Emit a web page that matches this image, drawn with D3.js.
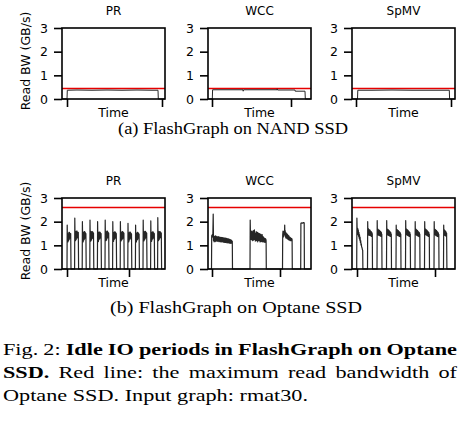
<!DOCTYPE html>
<html><head><meta charset="utf-8">
<script src="https://cdn.jsdelivr.net/npm/d3@7"></script>
<style>body{margin:0;background:#fff}svg{display:block}</style>
</head><body>
<svg id="c" width="467" height="425"></svg>
<script>
// ---------------- data ----------------
const algorithms = ["PR", "WCC", "SpMV"];
const yTicks = [0, 1, 2, 3];
const yLabel = "Read BW (GB/s)";
const xLabel = "Time";
const timeDomain = [0, 103];
const nandMaxBW = 0.44;
const optaneMaxBW = 2.6;
const nandTimeTicks = [[5, 100], [4, 83], [4, 99]];
const optaneTimeTicks = [[5, 67], [4, 72], [5, 83]];
const subCaptions = ["(a) FlashGraph on NAND SSD", "(b) FlashGraph on Optane SSD"];
const captionLines = [
  [["Fig.", 0], ["2:", 0], ["Idle", 1], ["IO", 1], ["periods", 1], ["in", 1], ["FlashGraph", 1], ["on", 1], ["Optane", 1]],
  [["SSD.", 1], ["Red", 0], ["line:", 0], ["the", 0], ["maximum", 0], ["read", 0], ["bandwidth", 0], ["of", 0]],
  [["Optane", 0], ["SSD.", 0], ["Input", 0], ["graph:", 0], ["rmat30.", 0]]
];

const nandPR = [[0,0],[5,0],[5.3,0.37],[15,0.38],[30,0.37],[45,0.38],[60,0.37],[75,0.38],[90,0.37],[96,0.37],[96.3,0],[103,0]];
const nandWCC = [[0,0],[4.3,0],[4.6,0.39],[20,0.39],[35,0.39],[35.2,0.33],[35.5,0.39],[52,0.39],[69,0.39],[69.2,0.43],[69.5,0.38],[80,0.38],[87,0.38],[87.2,0.33],[97,0.33],[97.3,0],[103,0]];
const nandSpMV = [[0,0],[5.5,0],[5.8,0.37],[20,0.37],[40,0.38],[60,0.37],[80,0.37],[97.3,0.37],[97.6,0],[103,0]];

const optanePR = [[0,0],
[5,0],[5.2,1.86],[5.4,1.3],[5.7,1.5],[6,1.15],[6.3,1.47],[6.6,1.2],[6.9,1.55],[7.2,1.25],[7.5,1.55],[7.8,1.3],[8.1,1.5],[8.4,1.35],[8.7,1.5],[9,0],
[12.6,0],[12.8,2.15],[13,1.42],[13.3,1.6],[13.6,1.2],[13.9,1.56],[14.2,1.25],[14.5,1.6],[14.8,1.3],[15.1,1.6],[15.4,1.32],[15.7,1.55],[16,1.38],[16.3,1.55],[16.6,0],
[20.2,0],[20.4,2.0],[20.6,1.35],[20.9,1.55],[21.2,1.15],[21.5,1.5],[21.8,1.22],[22.1,1.58],[22.4,1.26],[22.7,1.58],[23,1.3],[23.3,1.54],[23.6,1.36],[23.9,1.5],[24.2,0],
[27.8,0],[28,2.07],[28.2,1.38],[28.5,1.6],[28.8,1.18],[29.1,1.52],[29.4,1.22],[29.7,1.58],[30,1.28],[30.3,1.58],[30.6,1.3],[30.9,1.56],[31.2,1.38],[31.5,1.52],[31.8,0],
[35.4,0],[35.6,2.0],[35.8,1.32],[36.1,1.57],[36.4,1.16],[36.7,1.5],[37,1.24],[37.3,1.56],[37.6,1.27],[37.9,1.56],[38.2,1.31],[38.5,1.53],[38.8,1.36],[39.1,1.5],[39.4,0],
[43,0],[43.2,2.07],[43.4,1.4],[43.7,1.58],[44,1.2],[44.3,1.54],[44.6,1.23],[44.9,1.6],[45.2,1.3],[45.5,1.6],[45.8,1.32],[46.1,1.55],[46.4,1.38],[46.7,1.52],[47,0],
[50.6,0],[50.8,2.0],[51,1.36],[51.3,1.55],[51.6,1.17],[51.9,1.51],[52.2,1.25],[52.5,1.57],[52.8,1.28],[53.1,1.57],[53.4,1.31],[53.7,1.54],[54,1.37],[54.3,1.5],[54.6,0],
[58.2,0],[58.4,2.0],[58.6,1.34],[58.9,1.56],[59.2,1.19],[59.5,1.52],[59.8,1.24],[60.1,1.58],[60.4,1.27],[60.7,1.58],[61,1.3],[61.3,1.55],[61.6,1.38],[61.9,1.52],[62.2,0],
[65.8,0],[66,1.93],[66.2,1.33],[66.5,1.54],[66.8,1.15],[67.1,1.49],[67.4,1.23],[67.7,1.56],[68,1.26],[68.3,1.56],[68.6,1.3],[68.9,1.52],[69.2,1.35],[69.5,1.49],[69.8,0],
[73.4,0],[73.6,1.86],[73.8,1.3],[74.1,1.52],[74.4,1.14],[74.7,1.48],[75,1.22],[75.3,1.55],[75.6,1.25],[75.9,1.55],[76.2,1.3],[76.5,1.51],[76.8,1.34],[77.1,1.48],[77.4,0],
[81,0],[81.2,2.07],[81.4,1.38],[81.7,1.58],[82,1.19],[82.3,1.53],[82.6,1.24],[82.9,1.59],[83.2,1.28],[83.5,1.59],[83.8,1.32],[84.1,1.55],[84.4,1.38],[84.7,1.52],[85,0],
[88.6,0],[88.8,2.03],[89,1.36],[89.3,1.56],[89.6,1.17],[89.9,1.51],[90.2,1.24],[90.5,1.57],[90.8,1.28],[91.1,1.57],[91.4,1.31],[91.7,1.53],[92,1.37],[92.3,1.5],[92.6,0],
[95.6,0],[95.8,2.17],[96,1.4],[96.3,1.6],[96.6,1.2],[96.9,1.55],[97.2,1.25],[97.5,1.58],[97.8,1.3],[98.1,1.58],[98.4,1.33],[98.7,1.55],[99,1.38],[99.3,1.52],[99.6,0],[103,0]];

const optaneWCC = [[0,0],
[3.5,0],[3.7,1.4],[4.3,1.45],[4.8,1.35],[5.2,2.32],[5.5,1.2],[5.8,1.4],[6.1,1.15],[6.4,1.38],[6.7,1.2],[7,1.36],[7.3,1.16],[7.6,1.4],[7.9,1.2],[8.2,1.38],[8.5,1.18],[8.8,1.36],[9.1,1.2],[9.4,1.35],[9.7,1.17],[10,1.37],[10.3,1.2],[10.6,1.36],[10.9,1.16],[11.2,1.34],[11.5,1.19],[11.8,1.35],[12.1,1.15],[12.4,1.33],[12.7,1.18],[13,1.34],[13.3,1.14],[13.6,1.33],[13.9,1.17],[14.2,1.32],[14.5,1.16],[14.8,1.33],[15.1,1.13],[15.4,1.31],[15.7,1.16],[16,1.32],[16.3,1.12],[16.6,1.3],[16.9,1.15],[17.2,1.31],[17.5,1.12],[17.8,1.29],[18.1,1.14],[18.4,1.3],[18.7,1.11],[19,1.28],[19.3,1.13],[19.6,1.27],[19.9,1.1],[20.2,1.27],[20.5,1.12],[20.8,1.26],[21.1,1.1],[21.4,1.25],[21.7,1.09],[22,1.24],[22.3,1.1],[22.6,1.23],[22.9,1.08],[23.2,1.22],[23.5,1.1],[23.8,1.2],[24.1,1.12],[24.3,1.17],[24.5,0],
[42,0],[42.2,2.07],[42.5,1.35],[42.8,1.55],[43.1,1.25],[43.4,1.6],[43.7,1.3],[44,1.58],[44.3,1.2],[44.6,1.5],[44.9,1.28],[45.2,1.62],[45.5,1.22],[45.8,1.55],[46.1,1.3],[46.4,1.65],[46.7,1.25],[47,1.5],[47.3,1.18],[47.6,1.52],[47.9,1.26],[48.2,1.58],[48.5,1.2],[48.8,1.5],[49.1,1.28],[49.4,1.55],[49.7,1.15],[50,1.45],[50.3,1.22],[50.6,1.52],[50.9,1.2],[51.2,1.47],[51.5,1.25],[51.8,1.5],[52.1,1.14],[52.4,1.42],[52.7,1.2],[53,1.46],[53.3,1.16],[53.6,1.4],[53.9,1.22],[54.2,1.45],[54.5,1.15],[54.8,1.38],[55.1,1.18],[55.4,1.35],[55.7,1.14],[56,1.32],[56.3,1.18],[56.6,1.3],[56.9,1.12],[57.2,1.28],[57.5,1.16],[57.8,1.26],[58.1,1.2],[58.3,0],
[74.5,0],[74.7,1.45],[75,1.6],[75.3,1.35],[75.6,1.55],[75.9,1.4],[76.2,1.6],[76.5,1.45],[76.7,1.86],[76.9,1.45],[77.2,1.62],[77.5,1.35],[77.8,1.55],[78.1,1.3],[78.4,1.5],[78.7,1.32],[79,1.48],[79.3,1.28],[79.6,1.45],[79.9,1.26],[80.2,1.42],[80.5,1.25],[80.8,1.4],[81.1,1.22],[81.4,1.36],[81.7,1.24],[82,1.34],[82.3,1.2],[82.6,1.32],[82.9,1.22],[83.2,1.3],[83.5,1.2],[83.8,1.28],[84.1,1.24],[84.3,0],
[92.7,0],[92.9,1.93],[93.5,1.95],[94.5,1.94],[95.5,1.96],[96.2,1.95],[96.4,0],[103,0]];

const optaneSpMV = [[0,0],
[4.7,0],[4.9,2.15],[5.1,1.75],[5.4,1.55],[5.7,1.72],[6,1.45],[6.3,1.65],[6.6,1.38],[6.9,1.55],[7.2,1.3],[7.5,1.45],[7.8,1.22],[8.1,1.35],[8.4,1.12],[8.7,1.2],[9,1.02],[9.3,1.06],[9.6,0.94],[10,0.9],[10.4,0.82],[10.7,0.78],[10.9,0],
[15.5,0],[15.7,2.0],[15.9,1.5],[16.2,1.72],[16.5,1.45],[16.8,1.68],[17.1,1.42],[17.4,1.65],[17.7,1.44],[18,1.64],[18.3,1.42],[18.6,1.6],[18.9,1.4],[19.2,1.58],[19.5,1.38],[19.8,1.55],[20.1,1.4],[20.3,1.5],[20.5,0],
[25,0],[25.2,2.05],[25.4,1.48],[25.7,1.7],[26,1.44],[26.3,1.67],[26.6,1.43],[26.9,1.64],[27.2,1.42],[27.5,1.63],[27.8,1.41],[28.1,1.6],[28.4,1.4],[28.7,1.58],[29,1.38],[29.3,1.55],[29.6,1.4],[29.8,1.48],[30,0],
[34.5,0],[34.7,2.05],[34.9,1.5],[35.2,1.7],[35.5,1.45],[35.8,1.66],[36.1,1.43],[36.4,1.65],[36.7,1.42],[37,1.62],[37.3,1.41],[37.6,1.6],[37.9,1.39],[38.2,1.57],[38.5,1.38],[38.8,1.54],[39.1,1.39],[39.3,1.48],[39.5,0],
[44,0],[44.2,1.85],[44.4,1.48],[44.7,1.68],[45,1.44],[45.3,1.65],[45.6,1.42],[45.9,1.63],[46.2,1.41],[46.5,1.61],[46.8,1.4],[47.1,1.58],[47.4,1.38],[47.7,1.56],[48,1.37],[48.3,1.53],[48.6,1.38],[48.8,1.47],[49,0],
[53.5,0],[53.7,2.05],[53.9,1.5],[54.2,1.71],[54.5,1.45],[54.8,1.67],[55.1,1.44],[55.4,1.65],[55.7,1.42],[56,1.63],[56.3,1.41],[56.6,1.6],[56.9,1.39],[57.2,1.57],[57.5,1.38],[57.8,1.55],[58.1,1.39],[58.3,1.48],[58.5,0],
[63,0],[63.2,2.0],[63.4,1.49],[63.7,1.7],[64,1.45],[64.3,1.66],[64.6,1.43],[64.9,1.64],[65.2,1.42],[65.5,1.62],[65.8,1.4],[66.1,1.59],[66.4,1.39],[66.7,1.56],[67,1.37],[67.3,1.54],[67.6,1.39],[67.8,1.47],[68,0],
[72.5,0],[72.7,2.0],[72.9,1.51],[73.2,1.71],[73.5,1.46],[73.8,1.67],[74.1,1.44],[74.4,1.65],[74.7,1.43],[75,1.63],[75.3,1.41],[75.6,1.6],[75.9,1.4],[76.2,1.57],[76.5,1.38],[76.8,1.55],[77.1,1.4],[77.3,1.48],[77.5,0],
[82,0],[82.2,2.0],[82.4,1.49],[82.7,1.69],[83,1.45],[83.3,1.66],[83.6,1.43],[83.9,1.64],[84.2,1.41],[84.5,1.62],[84.8,1.4],[85.1,1.59],[85.4,1.38],[85.7,1.56],[86,1.37],[86.3,1.53],[86.6,1.39],[86.8,1.46],[87,0],
[91.5,0],[91.7,1.85],[91.9,1.48],[92.2,1.66],[92.5,1.43],[92.8,1.63],[93.1,1.42],[93.4,1.6],[93.7,1.4],[94,1.57],[94.3,1.39],[94.6,1.52],[94.9,0],[103,0]];

// ---------------- layout ----------------
const svg = d3.select("#c");
const PW = 103, PH = 71;
const lefts = [62, 208, 352];
const tops = [28, 198];
const sans = "'DejaVu Sans', sans-serif";
const serif = "'Liberation Serif', serif";

const rows = [
  {series: [nandPR, nandWCC, nandSpMV], ticks: nandTimeTicks, maxBW: nandMaxBW, lw: 1},
  {series: [optanePR, optaneWCC, optaneSpMV], ticks: optaneTimeTicks, maxBW: optaneMaxBW, lw: 1.2}
];

rows.forEach((row, r) => {
  const top = tops[r];
  const yS = d3.scaleLinear().domain([0, 3]).range([top + PH, top]);
  svg.append("text")
    .attr("transform", `translate(30,${top + 33}) rotate(-90)`)
    .attr("text-anchor", "middle").attr("font-family", sans).attr("font-size", 12.5)
    .text(yLabel);
  algorithms.forEach((name, c) => {
    const left = lefts[c];
    const xS = d3.scaleLinear().domain(timeDomain).range([left, left + PW]);
    const g = svg.append("g");
    g.append("line")
      .attr("x1", left).attr("x2", left + PW)
      .attr("y1", yS(row.maxBW)).attr("y2", yS(row.maxBW))
      .attr("stroke", "#e60000").attr("stroke-width", 1.5);
    g.append("path").datum(row.series[c])
      .attr("d", d3.line().x(d => xS(d[0])).y(d => yS(d[1])))
      .attr("fill", "none").attr("stroke", "#262626").attr("stroke-width", row.lw)
      .attr("stroke-linejoin", "round");
    g.append("rect").attr("x", left).attr("y", top).attr("width", PW).attr("height", PH)
      .attr("fill", "none").attr("stroke", "#000").attr("stroke-width", 1.6);
    const ya = g.append("g").attr("transform", `translate(${left},0)`)
      .call(d3.axisLeft(yS).tickValues(yTicks).tickSize(8).tickPadding(6).tickFormat(d3.format("d")));
    ya.select(".domain").remove();
    ya.selectAll("line").attr("stroke", "#000").attr("stroke-width", 1.6);
    ya.selectAll("text").attr("font-family", sans).attr("font-size", 12.5).attr("fill", "#000");
    const xa = g.append("g").attr("transform", `translate(0,${top + PH})`)
      .call(d3.axisBottom(xS).tickValues(row.ticks[c]).tickSize(8).tickFormat(""));
    xa.select(".domain").remove();
    xa.selectAll("line").attr("stroke", "#000").attr("stroke-width", 1.6);
    g.append("text").attr("x", left + PW / 2).attr("y", top - 13)
      .attr("text-anchor", "middle").attr("font-family", sans).attr("font-size", 12)
      .text(name);
    g.append("text").attr("x", left + PW / 2).attr("y", top + PH + 18)
      .attr("text-anchor", "middle").attr("font-family", sans).attr("font-size", 12.5)
      .text(xLabel);
  });
});

// sub captions
const subPos = [{x: 118, y: 134, w: 230}, {x: 110, y: 313, w: 252}];
subCaptions.forEach((t, i) => {
  svg.append("text").attr("x", subPos[i].x).attr("y", subPos[i].y)
    .attr("font-family", serif).attr("font-size", 16)
    .attr("textLength", subPos[i].w).attr("lengthAdjust", "spacingAndGlyphs")
    .text(t);
});

// figure caption (justified)
const capG = svg.append("g").attr("font-family", serif).attr("font-size", 17.5).attr("fill", "#000");
const lineY = [355, 378, 401];
const measured = captionLines.map((words, li) => {
  const lg = capG.append("g");
  const nodes = words.map(w => lg.append("text").attr("y", lineY[li])
    .attr("font-weight", w[1] ? "bold" : "normal").text(w[0]));
  return {nodes, ws: nodes.map(n => n.node().getComputedTextLength())};
});
const t1 = capG.append("text").text("a a"), t2 = capG.append("text").text("aa");
const sp = t1.node().getComputedTextLength() - t2.node().getComputedTextLength();
t1.remove(); t2.remove();
const l3 = measured[2];
const w3 = d3.sum(l3.ws) + sp * (l3.ws.length - 1);
const sx = 305 / w3;
capG.attr("transform", `translate(3,0) scale(${sx},1)`);
const fullW = 454 / sx;
measured.forEach((m, li) => {
  const gap = li < 2 ? (fullW - d3.sum(m.ws)) / (m.ws.length - 1) : sp;
  let x = 0;
  m.nodes.forEach((n, i) => { n.attr("x", x); x += m.ws[i] + gap; });
});
</script>
</body></html>
